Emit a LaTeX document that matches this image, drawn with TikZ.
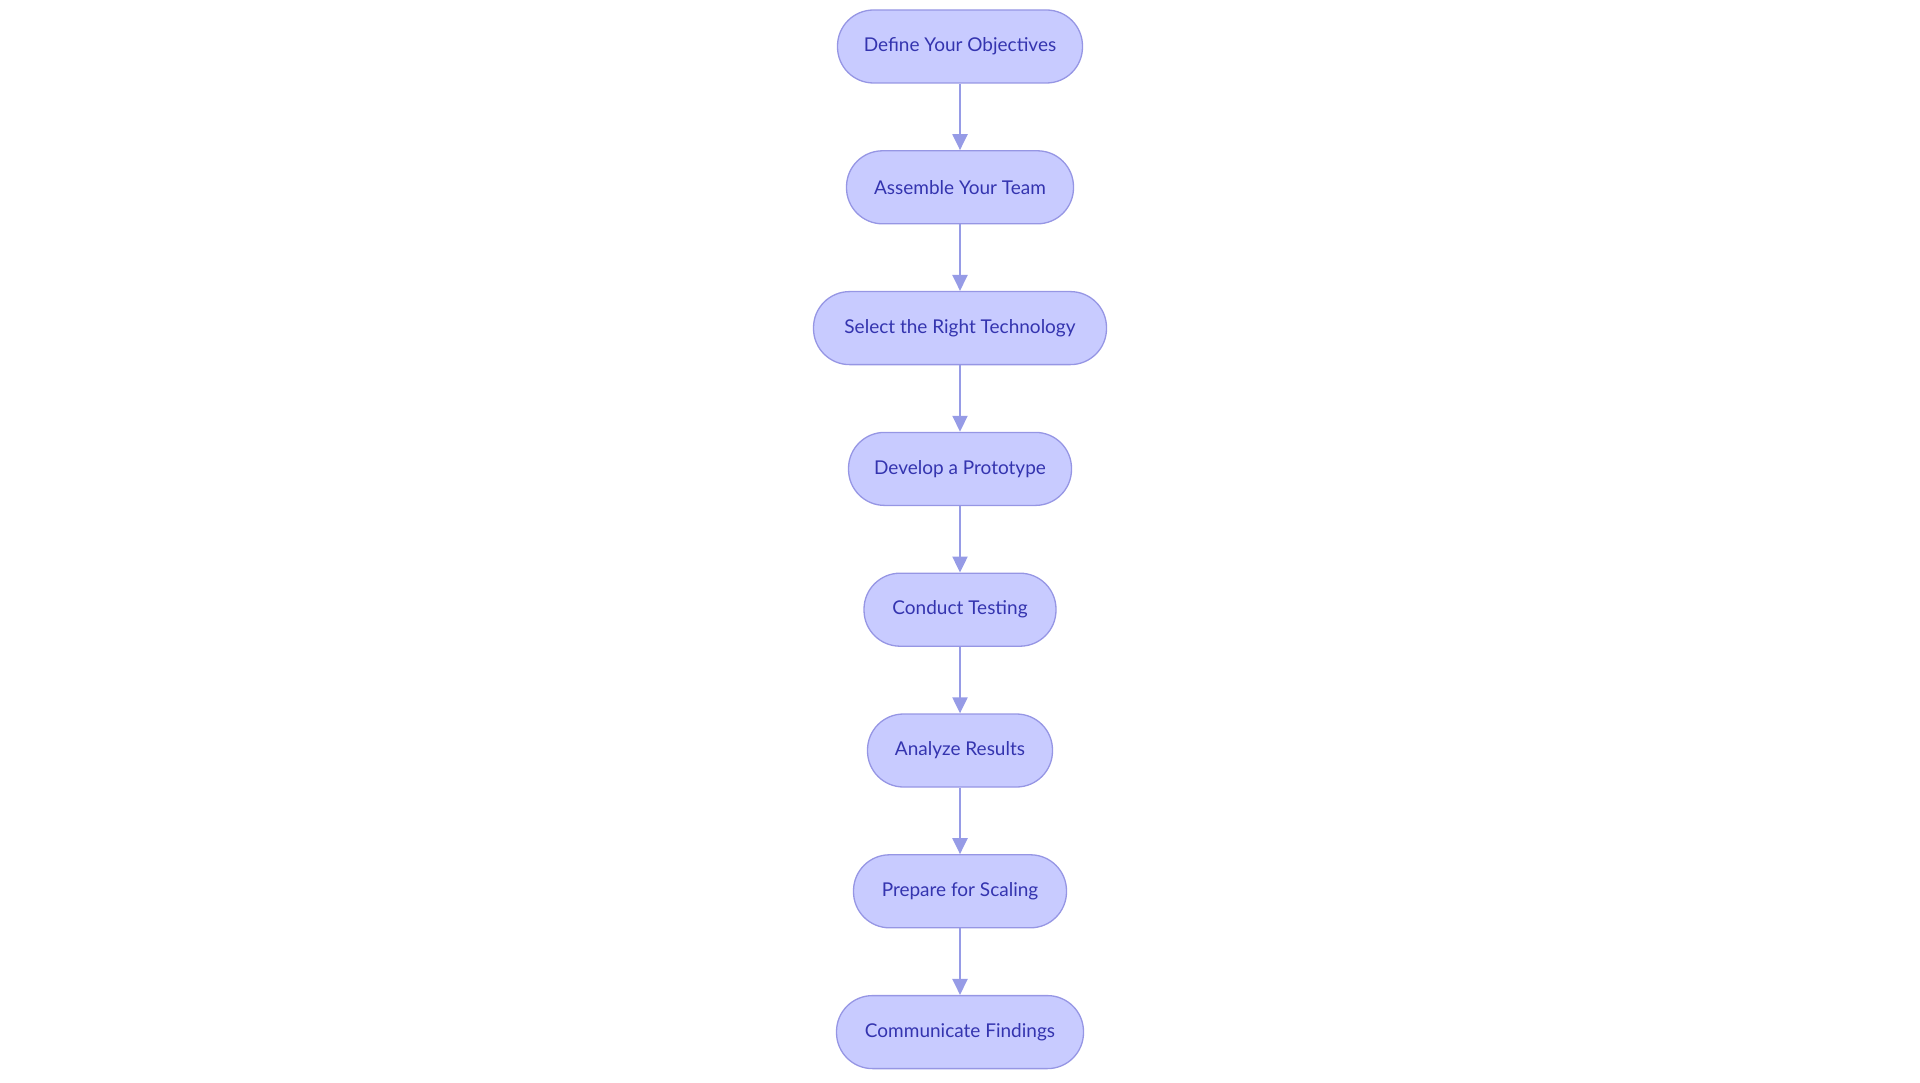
\documentclass[tikz,border=0pt]{standalone}
\usepackage{fontspec}
\setmainfont{Lato}
\usetikzlibrary{arrows.meta}
\definecolor{nodefill}{RGB}{200,203,255}
\definecolor{nodeline}{RGB}{150,150,228}
\definecolor{nodetext}{RGB}{52,52,175}
\definecolor{arrowcol}{RGB}{150,155,230}
\tikzset{
  stage/.style={draw=nodeline, line width=1.3pt, fill=nodefill, rounded corners=36pt,
    minimum height=73pt, inner xsep=4pt, text=nodetext, font=\fontsize{19pt}{22pt}\selectfont},
  flow/.style={draw=arrowcol, line width=2.2pt, -{Triangle[length=16pt,width=15pt]}, arrowcol}
}
\begin{document}
\begin{tikzpicture}[x=1pt,y=1pt]
\useasboundingbox (0,0) rectangle (1920,-1083);
\node[stage, minimum width=245pt] (n1) at (960,-46.5) {Define Your Objectives};
\node[stage, minimum width=227pt] (n2) at (960,-187.3) {Assemble Your Team};
\node[stage, minimum width=293pt] (n3) at (960,-328.1) {Select the Right Technology};
\node[stage, minimum width=223pt] (n4) at (960,-468.9) {Develop a Prototype};
\node[stage, minimum width=192pt] (n5) at (960,-609.7) {Conduct Testing};
\node[stage, minimum width=185pt] (n6) at (960,-750.5) {Analyze Results};
\node[stage, minimum width=213pt] (n7) at (960,-891.3) {Prepare for Scaling};
\node[stage, minimum width=247pt] (n8) at (960,-1032.1) {Communicate Findings};
\draw[flow] (n1) -- (n2);
\draw[flow] (n2) -- (n3);
\draw[flow] (n3) -- (n4);
\draw[flow] (n4) -- (n5);
\draw[flow] (n5) -- (n6);
\draw[flow] (n6) -- (n7);
\draw[flow] (n7) -- (n8);
\end{tikzpicture}
\end{document}
